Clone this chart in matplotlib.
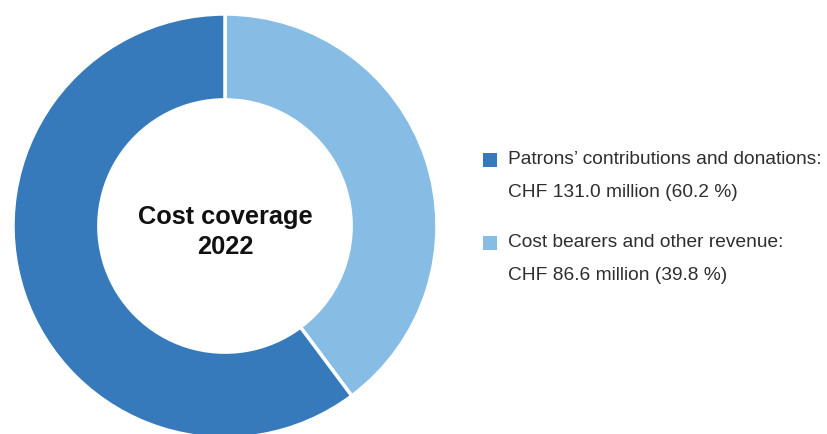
import matplotlib
matplotlib.use("Agg")
import matplotlib.pyplot as plt
from matplotlib.patches import Rectangle

# ---- data
labels = ["Cost bearers and other revenue", "Patrons’ contributions and donations"]
values = [86.6, 131.0]            # CHF million
shares = [39.8, 60.2]             # %
colors = ["#87bce5", "#377abb"]
centre_title = "Cost coverage\n2022"

W, H = 827, 434
fig = plt.figure(figsize=(W / 100, H / 100), dpi=100)

# donut axes: centre (225, 226) px, radius 212 px
cx, cy, r = 225, 226, 212
ax = fig.add_axes([(cx - r) / W, (H - cy - r) / H, 2 * r / W, 2 * r / H])
ax.pie(values, colors=colors, startangle=90, counterclock=False, radius=1.0,
       wedgeprops=dict(width=0.405, edgecolor="white", linewidth=2.5))
ax.set_xlim(-1, 1)
ax.set_ylim(-1, 1)
ax.set_aspect("equal")
ax.axis("off")
ax.text(0, -0.03, centre_title, ha="center", va="center", fontsize=18.3,
        fontweight="bold", family="Liberation Sans", color="#111111",
        linespacing=1.32)

# ---- legend drawn in figure pixel coords
def px(x, y):
    return x / W, 1 - y / H

entries = [
    (colors[1], f"{labels[1]}:", f"CHF {values[1]:.1f} million ({shares[1]:.1f} %)", 160),
    (colors[0], f"{labels[0]}:", f"CHF {values[0]:.1f} million ({shares[0]:.1f} %)", 243),
]
for col, line1, line2, y in entries:
    x0, y0 = px(483, y + 7)
    fig.add_artist(Rectangle((x0, y0), 14 / W, 14 / H, transform=fig.transFigure,
                             facecolor=col, edgecolor="none"))
    fig.text(*px(508, y), line1, ha="left", va="center", fontsize=13.8,
             family="Liberation Sans", color="#2e2e2e")
    fig.text(*px(508, y + 32), line2, ha="left", va="center", fontsize=13.8,
             family="Liberation Sans", color="#2e2e2e")

fig.savefig("out.png", dpi=100)
